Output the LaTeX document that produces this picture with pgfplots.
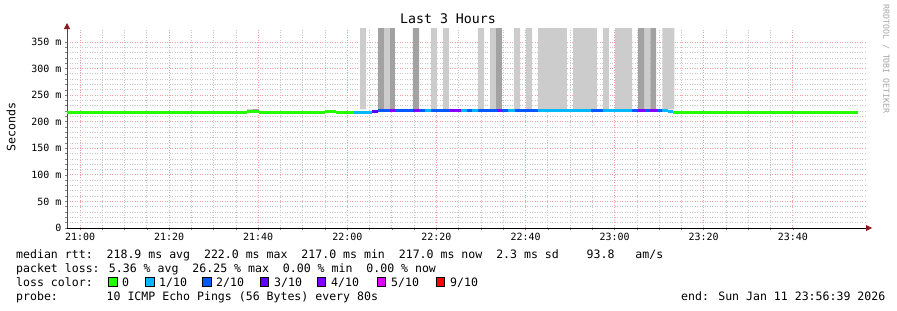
\documentclass[border=0pt]{standalone}
\usepackage{fontspec}
\setmainfont{DejaVu Sans Mono}
\setmonofont{DejaVu Sans Mono}
\usepackage{pgfplots}
\pgfplotsset{compat=1.18}
\usetikzlibrary{arrows.meta}
\definecolor{c0}{HTML}{26FF00}
\definecolor{c1}{HTML}{00B8FF}
\definecolor{c2}{HTML}{0059FF}
\definecolor{c3}{HTML}{5E00FF}
\definecolor{c4}{HTML}{7E00FF}
\definecolor{c5}{HTML}{DD00FF}
\definecolor{c9}{HTML}{FF0000}
\definecolor{lsmoke}{HTML}{CCCCCC}
\definecolor{dsmoke}{HTML}{A2A2A2}
\definecolor{mgrid}{HTML}{F2A0A0}
\definecolor{ngrid}{HTML}{C8C8C8}
\definecolor{arrowred}{HTML}{8B1A1A}
\begin{document}
\begin{tikzpicture}[x=1bp,y=1bp]
\path[use as bounding box] (0,0) rectangle (897,310);
\begin{axis}[
  at={(67bp,82bp)}, anchor=south west,
  scale only axis, width=800bp, height=200bp,
  xmin=-2.92, xmax=176.65, ymin=0, ymax=376.3,
  axis x line=bottom, axis y line=left,
  every outer x axis line/.append style={black, line width=0.8bp, -{Triangle[length=6bp,width=6bp,color=arrowred]}, shorten >=-5bp},
  every outer y axis line/.append style={black!70, line width=0.8bp, -{Triangle[length=6bp,width=6bp,color=arrowred]}, shorten >=-5bp},
  xtick={0,20,...,160},
  xticklabels={21:00,21:20,21:40,22:00,22:20,22:40,23:00,23:20,23:40},
  minor x tick num=3,
  ytick={0,50,...,350},
  yticklabels={0,50 m,100 m,150 m,200 m,250 m,300 m,350 m},
  minor y tick num=4,
  grid=both,
  major grid style={mgrid, line width=0.8bp, dash pattern=on 1bp off 1.5bp},
  minor grid style={ngrid, line width=0.8bp, dash pattern=on 1bp off 1.5bp},
  tick align=outside, major tick length=2bp, minor tick length=2bp,
  tick style={black!50, line width=0.6bp},
  ticklabel style={font=\fontsize{10}{12}\selectfont, text=black},
  unbounded coords=jump,
  clip=true,
]
% smoke
\addplot[fill=lsmoke, draw=none] coordinates {
(62.85,223)(62.85,400)(64.2,400)(64.2,223)
(68.2,223)(68.2,400)(69.6,400)(69.6,223)
(78.8,223)(78.8,400)(80.1,400)(80.1,223)
(81.5,223)(81.5,400)(82.8,400)(82.8,223)
(89.3,223)(89.3,400)(90.7,400)(90.7,223)
(92.0,223)(92.0,400)(93.4,400)(93.4,223)
(97.4,223)(97.4,400)(98.8,400)(98.8,223)
(100.1,223)(100.1,400)(101.5,400)(101.5,223)
(102.8,223)(102.8,400)(109.3,400)(109.3,223)
(110.7,223)(110.7,400)(116.0,400)(116.0,223)
(117.4,223)(117.4,400)(118.7,400)(118.7,223)
(120.1,223)(120.1,400)(123.9,400)(123.9,223)
(126.6,223)(126.6,400)(128.0,400)(128.0,223)
(130.7,223)(130.7,400)(133.4,400)(133.4,223)
} -- cycle;
\addplot[fill=dsmoke, draw=none] coordinates {
(66.9,223)(66.9,400)(68.2,400)(68.2,223)
(69.6,223)(69.6,400)(70.7,400)(70.7,223)
(74.7,223)(74.7,400)(76.1,400)(76.1,223)
(93.4,223)(93.4,400)(94.7,400)(94.7,223)
(125.3,223)(125.3,400)(126.6,400)(126.6,223)
(128.0,223)(128.0,400)(129.3,400)(129.3,223)
} -- cycle;
\addplot[fill=lsmoke, draw=none] coordinates {(37.49,219)(37.49,223)(38.8,223)(38.8,219)} -- cycle;
\addplot[fill=dsmoke, draw=none] coordinates {(38.8,219)(38.8,224.5)(40.18,224.5)(40.18,219)} -- cycle;
\addplot[fill=lsmoke, draw=none] coordinates {(1.3,218)(1.3,221)(2.9,221)(2.9,218)} -- cycle;
% median line, coloured by loss
\addplot[c0, line width=3bp] coordinates {
(-2.92,217)(37.49,217)(37.49,nan)
(37.49,218.5)(40.18,218.5)(40.18,nan)
(40.18,217)(55.0,217)(55.0,nan)
(55.0,219.5)(57.46,219.5)(57.46,nan)
(57.46,216.5)(61.5,216.5)(61.5,nan)
(133.11,217)(174.64,217)};
\addplot[c1, line width=3bp] coordinates {
(61.5,218)(65.54,218)(65.54,nan)
(77.44,222)(78.79,222)(78.79,nan)
(85.52,222)(86.87,222)(86.87,nan)
(87.99,222)(89.34,222)(89.34,nan)
(96.07,222)(97.64,222)(97.64,nan)
(102.81,222)(114.70,222)(114.70,nan)
(117.40,222)(123.91,222)(123.91,nan)
(130.64,222)(131.99,222)(131.99,nan)
(131.99,220)(133.11,220)};
\addplot[c2, line width=3bp] coordinates {
(66.89,221)(69.58,221)(69.58,nan)
(70.71,222)(74.75,222)(74.75,nan)
(76.09,222)(77.44,222)(77.44,nan)
(78.79,222)(83.05,222)(83.05,nan)
(86.87,222)(87.99,222)(87.99,nan)
(89.34,222)(93.60,222)(93.60,nan)
(94.73,222)(96.07,222)(96.07,nan)
(97.64,222)(102.81,222)(102.81,nan)
(114.70,222)(117.40,222)(117.40,nan)
(123.91,222)(125.25,222)(125.25,nan)
(126.82,222)(127.95,222)(127.95,nan)
(129.52,222)(130.64,222)};
\addplot[c3, line width=3bp] coordinates {(65.54,218.5)(66.89,218.5)};
\addplot[c4, line width=3bp] coordinates {
(69.58,222)(70.71,222)(70.71,nan)
(74.75,222)(76.09,222)(76.09,nan)
(83.05,222)(85.52,222)(85.52,nan)
(93.60,222)(94.73,222)(94.73,nan)
(125.25,222)(126.82,222)(126.82,nan)
(127.95,222)(129.52,222)};
\end{axis}
% titles
\node[font=\fontsize{13.3}{15}\selectfont] at (448,291) {Last 3 Hours};
\node[rotate=90, font=\fontsize{11.6}{13}\selectfont] at (11,183) {Seconds};
\node[rotate=-90, font=\fontsize{8.3}{10}\selectfont, text=black!35] at (886,251) {RRDTOOL / TOBI OETIKER};
% legend
\begin{scope}[every node/.style={anchor=base west, inner sep=0pt, font=\fontsize{11.6}{13}\selectfont}]
\node at (16,52) {median rtt:~~218.9 ms avg~~222.0 ms max~~217.0 ms min~~217.0 ms now~~2.3 ms sd~~~~93.8~~~am/s};
\node at (16,38) {packet loss: 5.36 \% avg~~26.25 \% max~~0.00 \% min~~0.00 \% now};
\node at (16,24) {loss color:};
\node at (16,10) {probe:~~~~~~~10 ICMP Echo Pings (56 Bytes) every 80s};
\node at (681,10) {end: Sun Jan 11 23:56:39 2026};
\node at (122,24) {0};
\node at (159,24) {1/10};
\node at (216,24) {2/10};
\node at (274,24) {3/10};
\node at (331,24) {4/10};
\node at (391,24) {5/10};
\node at (450,24) {9/10};
\end{scope}
\foreach \bx/\col in {108.5/c0,145.5/c1,202.5/c2,260/c3,317/c4,377/c5,436/c9}{
  \draw[black, line width=0.8bp, fill=\col] (\bx,23.5) rectangle ++(8.5,9);
}
\end{tikzpicture}
\end{document}
